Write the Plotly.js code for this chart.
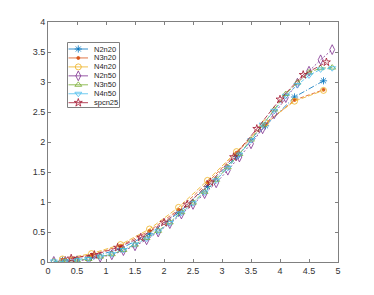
<!DOCTYPE html>
<html><head><meta charset="utf-8">
<script src="https://cdn.plot.ly/plotly-3.0.1.min.js"></script>
<style>html,body{margin:0;padding:0;background:#fff}#c{width:374px;height:295px}</style>
</head><body><div id="c"></div>
<script>
const x20 = [0.25,0.75,1.25,1.75,2.25,2.75,3.25,3.75,4.25,4.75];
const x50 = [0.1,0.3,0.5,0.7,0.9,1.1,1.3,1.5,1.7,1.9,2.1,2.3,2.5,2.7,2.9,3.1,3.3,3.5,3.7,3.9,4.1,4.3,4.5,4.7,4.9];
const x25 = [0.4,0.8,1.2,1.6,2.0,2.4,2.8,3.2,3.6,4.0,4.4,4.8];
const N2n20 = [0.03,0.08,0.22,0.47,0.82,1.26,1.76,2.27,2.75,3.02];
const N3n20 = [0.04,0.12,0.27,0.52,0.87,1.32,1.82,2.30,2.70,2.87];
const N4n20 = [0.05,0.14,0.29,0.55,0.91,1.36,1.84,2.32,2.68,2.86];
const N2n50 = [0.01,0.01,0.02,0.04,0.08,0.12,0.19,0.27,0.37,0.50,0.64,0.80,0.96,1.14,1.32,1.53,1.75,1.97,2.22,2.47,2.74,2.98,3.18,3.37,3.54];
const N3n50 = [0.01,0.01,0.03,0.05,0.09,0.13,0.20,0.29,0.40,0.52,0.66,0.83,0.99,1.17,1.37,1.58,1.80,2.04,2.28,2.54,2.80,2.99,3.16,3.23,3.24];
const N4n50 = [0.01,0.01,0.03,0.05,0.09,0.13,0.20,0.29,0.39,0.51,0.65,0.82,0.98,1.16,1.36,1.57,1.79,2.03,2.29,2.52,2.77,2.95,3.11,3.21,3.23];
const spcn25 = [0.06,0.12,0.24,0.41,0.66,0.96,1.33,1.75,2.22,2.71,3.12,3.33];
const names = ['N2n20','N3n20','N4n20','N2n50','N3n50','N4n50','spcn25'];
const xs = [x20,x20,x20,x50,x50,x50,x25];
const ys = [N2n20,N3n20,N4n20,N2n50,N3n50,N4n50,spcn25];
const colors = ['#0072BD','#D95319','#EDB120','#7E2F8E','#77AC30','#4DBEEE','#A2142F'];
const symbols = ['asterisk-open','circle','circle-open','diamond-tall-open','triangle-up-open','triangle-down-open','star-open'];
const sizes = [6,3,6,7,6,6,6];
const dashes = ['6px,2px,1px,2px','4px,2px','5px,2px','2px,2px','5px,2px','4px,2px','5px,2px'];

const traces = [];
names.forEach((n,i)=>{
  traces.push({x:xs[i], y:ys[i], type:'scatter', mode:'lines+markers', name:n, showlegend:false,
    line:{color:colors[i], width:0.8, dash:dashes[i]},
    marker:{symbol:symbols[i], size:sizes[i], color:colors[i], line:{color:colors[i], width:0.8}}});
});
// legend samples (drawn on an overlay axis in plot-fraction units)
const W=290, H=240, L=48, T=22;
const fx = px => (px-L)/W, fy = py => (T+H-py)/H;
const annotations = [];
names.forEach((n,i)=>{
  const cy = 49 + i*8.95;
  traces.push({x:[fx(68.5),fx(88)], y:[fy(cy),fy(cy)], xaxis:'x2', yaxis:'y2', mode:'lines', showlegend:false, hoverinfo:'skip',
    line:{color:colors[i], width:0.8}});
  traces.push({x:[fx(78.3)], y:[fy(cy)], xaxis:'x2', yaxis:'y2', mode:'markers', showlegend:false, hoverinfo:'skip',
    marker:{symbol:symbols[i], size:sizes[i], color:colors[i], line:{color:colors[i], width:0.8}}});
  annotations.push({xref:'paper', yref:'paper', x:fx(92), y:fy(cy), xanchor:'left', yanchor:'middle', text:n, showarrow:false,
    font:{family:'Liberation Sans, Arial, sans-serif', size:7.5, color:'#262626'}});
});
const axisCommon = {showgrid:false, zeroline:false, showline:true, linecolor:'#808080', linewidth:1, mirror:'ticks',
  ticks:'inside', ticklen:3, tickcolor:'#808080', tickwidth:1,
  tickfont:{family:'Liberation Sans, Arial, sans-serif', size:9, color:'#333'}};
const layout = {
  width:374, height:295, margin:{l:48, r:36, t:22, b:33}, paper_bgcolor:'#fff', plot_bgcolor:'rgba(0,0,0,0)',
  xaxis:Object.assign({range:[0,5], tickvals:[0,0.5,1,1.5,2,2.5,3,3.5,4,4.5,5], ticktext:['0','0.5','1','1.5','2','2.5','3','3.5','4','4.5','5']}, axisCommon),
  yaxis:Object.assign({range:[0,4], tickvals:[0,0.5,1,1.5,2,2.5,3,3.5,4], ticktext:['0','0.5','1','1.5','2','2.5','3','3.5','4']}, axisCommon),
  xaxis2:{overlaying:'x', anchor:'y2', range:[0,1], visible:false, fixedrange:true},
  yaxis2:{overlaying:'y', anchor:'x2', range:[0,1], visible:false, fixedrange:true},
  shapes:[{type:'rect', xref:'paper', yref:'paper', x0:fx(67.5), x1:fx(119.5), y0:fy(107.5), y1:fy(42.5),
    line:{color:'#808080', width:1}, fillcolor:'#fff', layer:'below'}],
  annotations:annotations, showlegend:false
};
Plotly.newPlot('c', traces, layout, {displayModeBar:false, staticPlot:true});
</script></body></html>
